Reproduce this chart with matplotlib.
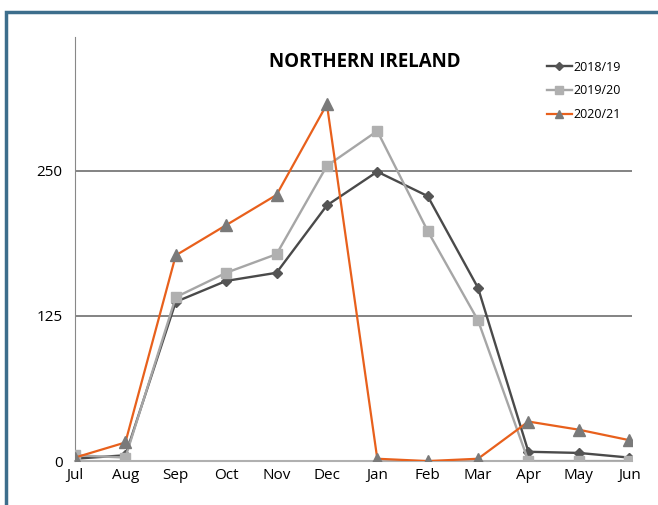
import matplotlib.pyplot as plt
from matplotlib.patches import Rectangle

months = ["Jul", "Aug", "Sep", "Oct", "Nov", "Dec", "Jan", "Feb", "Mar", "Apr", "May", "Jun"]
s2018 = [2, 5, 137, 155, 162, 220, 249, 228, 149, 8, 7, 3]
s2019 = [5, 3, 141, 162, 178, 254, 284, 198, 121, 0, 0, 0]
s2020 = [3, 16, 177, 203, 229, 307, 2, 0, 2, 34, 27, 18]
yticks = [0, 125, 250]

plt.rcParams['font.family'] = ['Open Sans', 'DejaVu Sans']

fig = plt.figure(figsize=(6.58, 5.05), dpi=100)
ax = fig.add_axes([0.114, 0.087, 0.846, 0.840])

x = range(len(months))
ax.plot(x, s2018, color='#4a4a4a', lw=1.7, marker='D', ms=5, mfc='#555555', mec='#555555', label='2018/19', zorder=3)
ax.plot(x, s2019, color='#a6a6a6', lw=1.7, marker='s', ms=7, mfc='#b0b0b0', mec='#b0b0b0', label='2019/20', zorder=3)
ax.plot(x, s2020, color='#e8601c', lw=1.6, marker='^', ms=8, mfc='#7a7a7a', mec='#7a7a7a', label='2020/21', zorder=4)

ax.set_xlim(0, 11.05)
ax.set_ylim(0, 365)
ax.set_xticks(list(x))
ax.set_xticklabels(months, fontsize=11)
ax.set_yticks(yticks)
ax.set_yticklabels([str(v) for v in yticks], fontsize=11)
ax.tick_params(length=0, pad=5)
ax.tick_params(axis='y', pad=9)

for v in yticks[1:]:
    ax.axhline(v, color='#6e6e6e', lw=1.2, zorder=1)

for side in ['top', 'right']:
    ax.spines[side].set_visible(False)
ax.spines['left'].set_color('#888888')
ax.spines['bottom'].set_color('#b0b0b0')
ax.spines['bottom'].set_linewidth(1.5)

fig.text(0.555, 0.877, "NORTHERN IRELAND", fontsize=13.5, fontweight='bold', ha='center', va='center')

leg = ax.legend(loc='upper right', bbox_to_anchor=(1.0, 0.97), frameon=False, fontsize=9,
                handlelength=2.0, handletextpad=0.1, labelspacing=0.85, markerscale=0.8)

fig.patches.append(Rectangle((6 / 658, -0.1), 1.2, 1 - 12 / 505 + 0.1, transform=fig.transFigure,
                             fill=False, edgecolor='#3d6e8c', lw=2.5, clip_on=False))

fig.savefig('out.png', dpi=100)
